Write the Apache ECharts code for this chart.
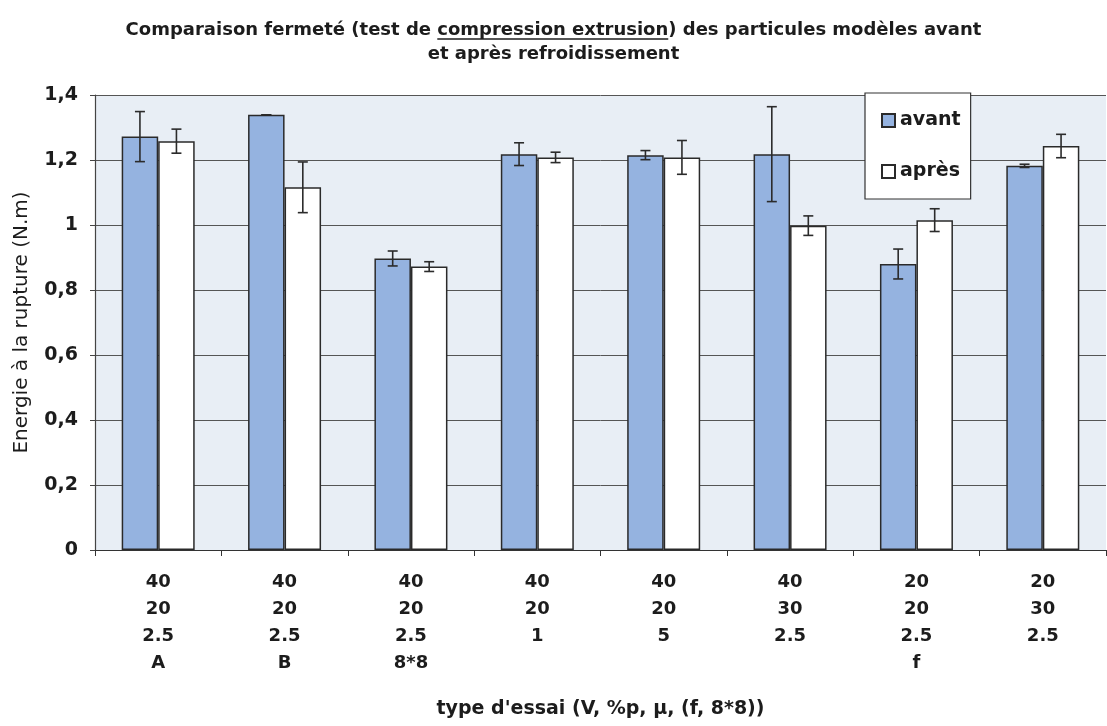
<!DOCTYPE html>
<html>
<head>
<meta charset="utf-8">
<script src="https://cdn.jsdelivr.net/npm/echarts@6/dist/echarts.min.js"></script>
<style>
  html, body { margin: 0; padding: 0; background: #fff; }
  #chart { width: 1107px; height: 726px; }
</style>
</head>
<body>
<div id="chart"></div>
<script>
// Test conditions (V, %p, µ, (f, 8*8)), one label per group of bars
const categories = [
  '40\n20\n2.5\nA',
  '40\n20\n2.5\nB',
  '40\n20\n2.5\n8*8',
  '40\n20\n1',
  '40\n20\n5',
  '40\n30\n2.5',
  '20\n20\n2.5\nf',
  '20\n30\n2.5'
];

// Breaking energy (N.m) before cooling, with its standard deviation
const avant    = [1.272, 1.339, 0.897, 1.218, 1.215, 1.218, 0.880, 1.182];
const avantErr = [0.077, 0.000, 0.023, 0.035, 0.014, 0.146, 0.046, 0.005];

// Breaking energy (N.m) after cooling, with its standard deviation
const apres    = [1.258, 1.116, 0.872, 1.208, 1.208, 0.998, 1.015, 1.243];
const apresErr = [0.037, 0.078, 0.015, 0.016, 0.052, 0.030, 0.035, 0.036];

const yTicks = { min: 0, max: 1.4, interval: 0.2 };

const BAR_W = 36.5;
const FONT = 'DejaVu Sans, Verdana, sans-serif';
const INK = '#1c1c1c';

// Error bar drawn around the top of a bar, shifted to the bar's position in its group
function errorBars(values, errs, offset) {
  return {
    type: 'custom',
    silent: true,
    z: 5,
    data: values.map((v, i) => [i, v, errs[i]]),
    renderItem: function (params, api) {
      const i = api.value(0), v = api.value(1), e = api.value(2);
      const hi = api.coord([i, v + e]);
      const lo = api.coord([i, v - e]);
      const x = hi[0] + offset;
      const cap = 5;
      const style = { stroke: '#2b2b2b', lineWidth: 1.6 };
      return {
        type: 'group',
        children: [
          { type: 'line', shape: { x1: x, y1: hi[1], x2: x, y2: lo[1] }, style: style },
          { type: 'line', shape: { x1: x - cap, y1: hi[1], x2: x + cap, y2: hi[1] }, style: style },
          { type: 'line', shape: { x1: x - cap, y1: lo[1], x2: x + cap, y2: lo[1] }, style: style }
        ]
      };
    }
  };
}

const chart = echarts.init(document.getElementById('chart'), null, { renderer: 'canvas' });

const titleLine1a = 'Comparaison fermeté (test de ';
const titleLine1u = 'compression extrusion';
const titleLine1b = ') des particules modèles avant';
const TITLE_SIZE = 18;
const TITLE_TOP = 18;
const TITLE_LH = 24;

// Position of the underlined words inside the centred first title line
const ctx = document.createElement('canvas').getContext('2d');
ctx.font = 'bold ' + TITLE_SIZE + 'px ' + FONT;
const wA = ctx.measureText(titleLine1a).width;
const wU = ctx.measureText(titleLine1u).width;
const wB = ctx.measureText(titleLine1b).width;
const titleCx = 1107 / 2;
const ulStart = titleCx - (wA + wU + wB) / 2 + wA;
const ulY = TITLE_TOP + TITLE_LH / 2 + TITLE_SIZE * 0.5;

chart.setOption({
  animation: false,
  textStyle: { fontFamily: FONT },
  title: {
    left: 'center',
    top: TITLE_TOP,
    padding: 0,
    text: '{n|' + titleLine1a + titleLine1u + titleLine1b + '}\n{n|et après refroidissement}',
    textStyle: {
      rich: {
        n: { fontFamily: FONT, fontSize: TITLE_SIZE, fontWeight: 'bold', color: INK, lineHeight: TITLE_LH }
      }
    }
  },
  graphic: [
    {
      type: 'line',
      shape: { x1: ulStart, y1: ulY, x2: ulStart + wU, y2: ulY },
      style: { stroke: INK, lineWidth: 1.5 }
    }
  ],
  legend: {
    orient: 'vertical',
    left: 865,
    top: 93,
    data: ['avant', 'après'],
    backgroundColor: '#ffffff',
    borderColor: '#333333',
    borderWidth: 1.2,
    padding: [18, 10, 18, 16],
    itemGap: 32,
    itemWidth: 13,
    itemHeight: 13,
    icon: 'rect',
    textStyle: { fontFamily: FONT, fontSize: 19, fontWeight: 'bold', color: INK }
  },
  grid: {
    left: 95,
    right: 1,
    top: 95,
    bottom: 176,
    outerBoundsMode: 'none',
    containLabel: false,
    show: true,
    backgroundColor: '#e8eef5',
    borderWidth: 0
  },
  xAxis: {
    type: 'category',
    data: categories,
    name: "type d'essai (V, %p, µ, (f, 8*8))",
    nameLocation: 'middle',
    nameGap: 150,
    nameTextStyle: { fontFamily: FONT, fontSize: 19, fontWeight: 'bold', color: INK },
    axisLine: { lineStyle: { color: '#333333', width: 1.2 } },
    axisTick: { show: true, length: 6, lineStyle: { color: '#333333' } },
    axisLabel: {
      margin: 19,
      fontFamily: FONT,
      fontSize: 18,
      fontWeight: 'bold',
      color: INK,
      lineHeight: 27,
      verticalAlign: 'top'
    }
  },
  yAxis: {
    type: 'value',
    min: yTicks.min,
    max: yTicks.max,
    interval: yTicks.interval,
    name: 'Energie à la rupture (N.m)',
    nameLocation: 'middle',
    nameGap: 63,
    nameRotate: 90,
    nameTextStyle: { fontFamily: FONT, fontSize: 20, color: INK },
    axisLine: { show: true, lineStyle: { color: '#444444', width: 1.2 } },
    axisTick: { show: true, length: 5, lineStyle: { color: '#444444' } },
    splitLine: { lineStyle: { color: '#555555', width: 1 } },
    axisLabel: {
      margin: 17,
      fontFamily: FONT,
      fontSize: 19,
      fontWeight: 'bold',
      color: INK,
      formatter: v => String(Number(v.toFixed(1))).replace('.', ',')
    }
  },
  series: [
    {
      name: 'avant',
      type: 'bar',
      data: avant,
      barWidth: BAR_W,
      barGap: '0%',
      itemStyle: { color: '#95b3e0', borderColor: '#2a2a2a', borderWidth: 1.5 },
      z: 3
    },
    {
      name: 'après',
      type: 'bar',
      data: apres,
      barWidth: BAR_W,
      barGap: '0%',
      itemStyle: { color: '#ffffff', borderColor: '#2a2a2a', borderWidth: 1.5 },
      z: 3
    },
    errorBars(avant, avantErr, -BAR_W / 2),
    errorBars(apres, apresErr, BAR_W / 2)
  ]
});
</script>
</body>
</html>
